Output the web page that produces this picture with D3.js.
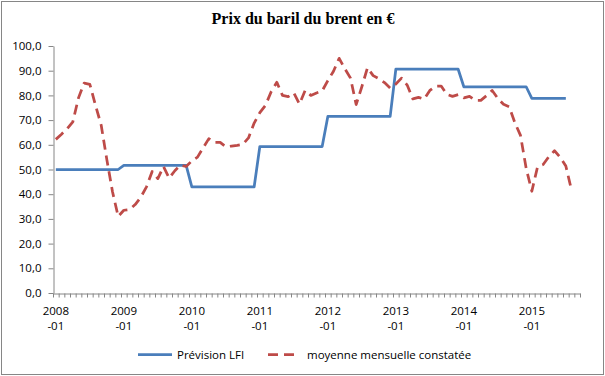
<!DOCTYPE html>
<html>
<head>
<meta charset="utf-8">
<script src="https://cdn.jsdelivr.net/npm/d3@7"></script>
<style>
  body { margin: 0; background: #fff; }
  svg { display: block; }
</style>
</head>
<body>
<script>
var width = 605, height = 376;
var margin = {top: 46, right: 25, bottom: 83, left: 53};

var title = "Prix du baril du brent en €";

// monthly categories 2008-01 .. 2015-09
var years = [2008, 2009, 2010, 2011, 2012, 2013, 2014, 2015];
var months = [];
years.forEach(function (y) {
    for (var m = 1; m <= 12; m++) {
        if (y == 2015 && m > 9) break;
        months.push(y + "-" + (m < 10 ? "0" + m : m));
    }
});

var seriesNames = ["Prévision LFI", "moyenne mensuelle constatée"];

var lfi = [
    50.0, 50.0, 50.0, 50.0, 50.0, 50.0, 50.0, 50.0, 50.0, 50.0, 50.0, 50.0,
    51.7, 51.7, 51.7, 51.7, 51.7, 51.7, 51.7, 51.7, 51.7, 51.7, 51.7, 51.7,
    43.0, 43.0, 43.0, 43.0, 43.0, 43.0, 43.0, 43.0, 43.0, 43.0, 43.0, 43.0,
    59.3, 59.3, 59.3, 59.3, 59.3, 59.3, 59.3, 59.3, 59.3, 59.3, 59.3, 59.3,
    71.5, 71.5, 71.5, 71.5, 71.5, 71.5, 71.5, 71.5, 71.5, 71.5, 71.5, 71.5,
    90.6, 90.6, 90.6, 90.6, 90.6, 90.6, 90.6, 90.6, 90.6, 90.6, 90.6, 90.6,
    83.5, 83.5, 83.5, 83.5, 83.5, 83.5, 83.5, 83.5, 83.5, 83.5, 83.5, 83.5,
    78.8, 78.8, 78.8, 78.8, 78.8, 78.8, 78.8
];

var constatee = [
    62.2, 64.3, 66.5, 69.3, 79.0, 85.0, 84.5, 76.0, 68.0, 54.0, 41.0, 31.0,
    33.5, 33.8, 35.8, 38.8, 43.0, 49.2, 46.3, 51.2, 46.5, 49.5, 51.8, 51.2,
    53.5, 55.0, 58.8, 62.5, 61.0, 61.0, 59.2, 59.5, 59.8, 60.2, 62.8, 68.8,
    73.0, 76.0, 81.5, 85.3, 80.0, 79.5, 81.0, 76.5, 82.0, 80.0, 81.0, 81.8,
    86.0, 89.8, 95.0, 90.8, 87.0, 76.3, 83.5, 91.2, 88.0, 86.8, 85.2, 83.0,
    84.6, 87.0, 84.2, 78.6, 79.2, 78.5, 82.0, 83.7, 83.8, 80.4, 79.6, 80.3,
    79.0, 79.6, 78.0, 78.0, 79.9, 82.0, 78.8, 76.4, 75.4, 69.0, 63.8, 50.5,
    41.2, 51.0, 52.0, 55.2, 57.6, 55.0, 51.4, 41.7
];

var yTicks = [0, 10, 20, 30, 40, 50, 60, 70, 80, 90, 100];

var svg = d3.select("body").append("svg")
    .attr("width", width)
    .attr("height", height);

// chart frame
svg.append("rect")
    .attr("x", 1.5).attr("y", 1.5)
    .attr("width", width - 3).attr("height", height - 3)
    .attr("fill", "#fff")
    .attr("stroke", "#868686")
    .attr("stroke-width", 1);

svg.append("text")
    .attr("x", 303)
    .attr("y", 24)
    .attr("text-anchor", "middle")
    .attr("font-family", "'Liberation Serif', 'Times New Roman', serif")
    .attr("font-weight", "bold")
    .attr("font-size", "16px")
    .text(title);

var x0 = margin.left, x1 = width - margin.right;
var yBottom = height - margin.bottom, yTop = margin.top;

var x = d3.scaleBand()
    .domain(months)
    .range([x0, x1]);

var xEdge = d3.scaleLinear()
    .domain([0, months.length])
    .range([x0, x1]);

var y = d3.scaleLinear()
    .domain([0, 100])
    .range([yBottom, yTop]);

var font = "'Open Sans', sans-serif";

// y axis
var yAxis = svg.append("g")
    .attr("transform", "translate(" + (x0 + 0.5) + ",0)")
    .call(d3.axisLeft(y)
        .tickValues(yTicks)
        .tickSize(5)
        .tickSizeOuter(0)
        .tickPadding(7)
        .tickFormat(function (d) { return d.toFixed(1).replace(".", ","); }));

yAxis.selectAll("text")
    .attr("font-family", font)
    .attr("font-size", "11.5px")
    .attr("fill", "#000");

// x axis, a tick at every month boundary
var xAxis = svg.append("g")
    .attr("transform", "translate(0," + (yBottom + 0.5) + ")")
    .call(d3.axisBottom(xEdge)
        .tickValues(d3.range(0, months.length + 1))
        .tickSize(4)
        .tickSizeOuter(0)
        .tickFormat(""));

svg.selectAll(".domain, .tick line")
    .attr("stroke", "#868686");

// year labels on two lines
var janLabels = months.filter(function (d) { return d.slice(5) == "01"; });
var labels = svg.append("g")
    .selectAll("text")
    .data(janLabels)
    .enter()
    .append("text")
    .attr("text-anchor", "middle")
    .attr("font-family", font)
    .attr("font-size", "11.5px")
    .attr("fill", "#000");

labels.append("tspan")
    .attr("x", function (d) { return x(d) + x.bandwidth() / 2; })
    .attr("y", yBottom + 22)
    .text(function (d) { return d.slice(0, 4); });

labels.append("tspan")
    .attr("x", function (d) { return x(d) + x.bandwidth() / 2; })
    .attr("y", yBottom + 37)
    .text(function (d) { return "-" + d.slice(5); });

var line = d3.line()
    .x(function (d, i) { return x(months[i]) + x.bandwidth() / 2; })
    .y(function (d) { return y(d); });

svg.append("path")
    .datum(lfi)
    .attr("fill", "none")
    .attr("stroke", "#4A7EBB")
    .attr("stroke-width", 2.75)
    .attr("stroke-linejoin", "round")
    .attr("d", line);

svg.append("path")
    .datum(constatee)
    .attr("fill", "none")
    .attr("stroke", "#BE4B48")
    .attr("stroke-width", 2.75)
    .attr("stroke-dasharray", "10,6")
    .attr("stroke-linejoin", "round")
    .attr("d", line);

// legend
var legend = svg.append("g");
var legendItems = [
    {name: seriesNames[0], color: "#4A7EBB", dash: null, x1: 138, x2: 172, tx: 177},
    {name: seriesNames[1], color: "#BE4B48", dash: "10,6", x1: 268, x2: 296, tx: 307}
];

legendItems.forEach(function (it) {
    legend.append("line")
        .attr("x1", it.x1).attr("x2", it.x2)
        .attr("y1", 354.5).attr("y2", 354.5)
        .attr("stroke", it.color)
        .attr("stroke-width", 2.75)
        .attr("stroke-dasharray", it.dash);
    legend.append("text")
        .attr("x", it.tx)
        .attr("y", 358.5)
        .attr("font-family", font)
        .attr("font-size", "11.5px")
        .attr("fill", "#000")
        .text(it.name);
});
</script>
</body>
</html>
